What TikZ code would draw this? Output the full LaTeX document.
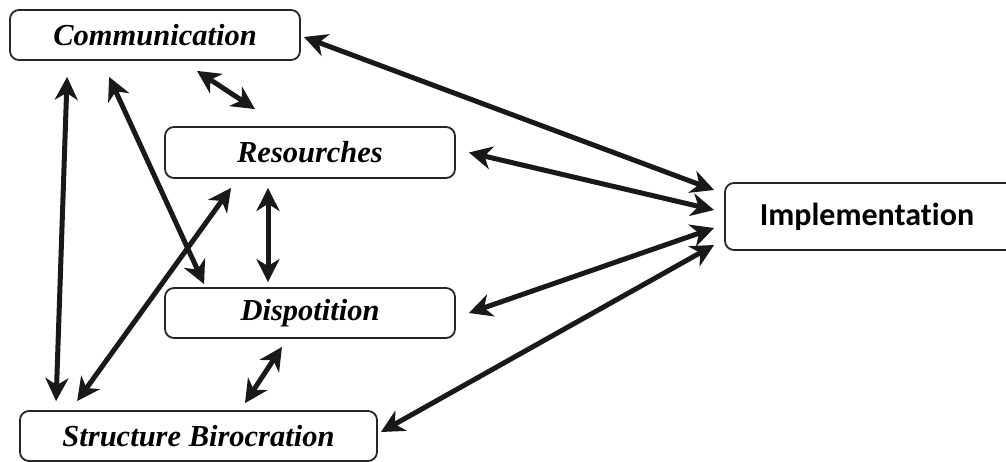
\documentclass[tikz,border=0pt]{standalone}
\usepackage{fontspec}
\setmainfont{Liberation Serif}
\newfontfamily\calib[Ligatures={NoCommon}]{Carlito}
\usetikzlibrary{arrows.meta}
\begin{document}
\begin{tikzpicture}[x=1pt,y=-1pt,
  box/.style={draw=black!85,line width=1.8pt,rounded corners=9pt,inner sep=0pt,
    font=\fontsize{30.5}{34}\selectfont\bfseries\itshape},
  conn/.style={line width=5pt,black!90,{Stealth[length=23pt,width=23pt,inset=7pt]}-{Stealth[length=23pt,width=23pt,inset=7pt]}}]
\useasboundingbox (0,0) rectangle (1006,462);
\clip (0,0) rectangle (1006,462);
\node[box,minimum width=290pt,minimum height=50pt] (comm) at (155,35) {Communication};
\node[box,minimum width=290pt,minimum height=51pt] (res) at (310,152.5) {Resourches};
\node[box,minimum width=290pt,minimum height=50pt] (disp) at (310,313) {Dispotition};
\node[box,minimum width=357pt,minimum height=50pt] (struct) at (198.5,436) {Structure Birocration};
\node[box,minimum width=290pt,minimum height=67pt,font=\calib\fontsize{32}{36}\selectfont\bfseries] (impl) at (870,216.5) {Implementation\hspace*{6pt}};
\draw[conn] ([shift={(3,2)}]comm.east) -- ([shift={(-10,-26.5)}]impl.west);
\draw[conn] ([shift={(42,10)}]comm.south) -- ([shift={(-55,-17)}]res.north);
\draw[conn] ([shift={(58,16)}]comm.south west) -- ([shift={(37,-9)}]struct.north west);
\draw[conn] ([shift={(100,16)}]comm.south west) -- ([shift={(40,-3)}]disp.north west);
\draw[conn] ([shift={(67,9)}]res.south west) -- ([shift={(58,-9)}]struct.north west);
\draw[conn] ([shift={(-42,9)}]res.south) -- ([shift={(-42,-5)}]disp.north);
\draw[conn] ([shift={(-28,8)}]disp.south) -- ([shift={(46.5,-7)}]struct.north);
\draw[conn] ([shift={(13,0)}]res.east) -- ([shift={(-10,-6.5)}]impl.west);
\draw[conn] ([shift={(13,0)}]disp.east) -- ([shift={(-10,11.5)}]impl.west);
\draw[conn] ([shift={(3,-4)}]struct.east) -- ([shift={(-10,28.5)}]impl.west);
\end{tikzpicture}
\end{document}
